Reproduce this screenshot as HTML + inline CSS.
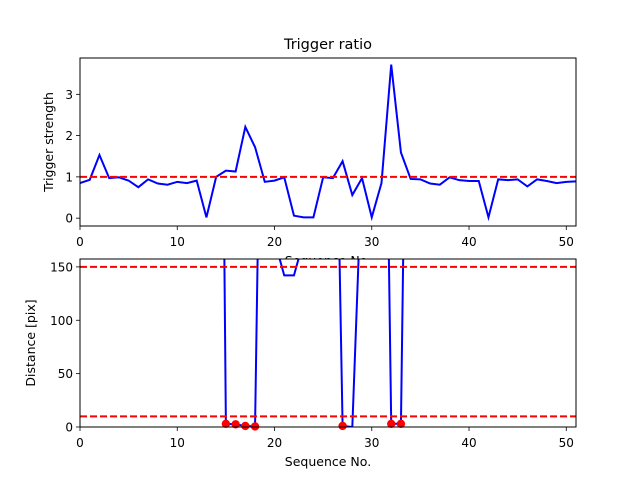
<!DOCTYPE html>
<html><head><meta charset="utf-8">
<style>
html,body{margin:0;padding:0;background:#fff;}
svg text{font-family:"DejaVu Sans","Liberation Sans",sans-serif;fill:#000;}
</style></head>
<body>
<svg id="fig" width="640" height="480" viewBox="0 0 640 480" xmlns="http://www.w3.org/2000/svg">
<rect width="640" height="480" fill="#fff"/>
<text x="328" y="49" font-size="14.5" text-anchor="middle">Trigger ratio</text>
<g id="top"></g>
<g id="bot"></g>
</svg>
<script>
const seq = [];
for (let i = 0; i <= 51; i++) seq.push(i);
const triggerStrength = [0.85,0.93,1.53,0.97,0.99,0.91,0.75,0.94,0.84,0.81,0.88,0.85,0.91,0.02,1.0,1.15,1.13,2.21,1.72,0.88,0.91,0.99,0.06,0.02,0.02,0.99,0.97,1.38,0.56,0.97,0.02,0.85,3.72,1.59,0.95,0.94,0.84,0.81,0.99,0.92,0.9,0.9,0.02,0.94,0.92,0.94,0.77,0.94,0.9,0.85,0.88,0.89];
const distance = [1000,1000,1000,1000,1000,1000,1000,1000,1000,1000,1000,1000,1000,1000,1000,3,2.5,1,0.5,600,175,142,142,175,1000,1000,500,1,0,245,1000,650,3,3,680,1000,1000,1000,1000,1000,1000,1000,1000,1000,1000,1000,1000,1000,1000,1000,1000,1000];
const markerSeq = [15,16,17,18,27,32,33];
const markerDist = [3,2.5,1,0.5,1,3,3];
const topThreshold = [1];
const botThresholds = [150,10];
const xTicks = [0,10,20,30,40,50];
const topYTicks = [0,1,2,3];
const botYTicks = [0,50,100,150];

const NS = "http://www.w3.org/2000/svg";
function mk(parent, tag, attrs) {
  const e = document.createElementNS(NS, tag);
  for (const k in attrs) e.setAttribute(k, attrs[k]);
  parent.appendChild(e);
  return e;
}
const X0 = 80, X1 = 576, XMAX = 51;
const xs = v => X0 + (X1 - X0) * v / XMAX;

function axes(g, y0, y1, ymin, ymax, yticks, ylabel, cid, prefix) {
  const ys = v => y1 - (y1 - y0) * (v - ymin) / (ymax - ymin);
  const bg = mk(g, "rect", {x: X0, y: y0, width: X1 - X0, height: y1 - y0, fill: "#fff"});
  
  
  const cp = mk(g, "clipPath", {id: cid});
  mk(cp, "rect", {x: X0, y: y0, width: X1 - X0, height: y1 - y0});
  xTicks.forEach(t => {
    mk(g, "line", {x1: xs(t), x2: xs(t), y1: y1, y2: y1 + 4, stroke: "#000", "stroke-width": 0.8});
    const tx = mk(g, "text", {x: xs(t), y: y1 + 20, "font-size": 12, "text-anchor": "middle"});
    tx.textContent = t;
    
    
  });
  yticks.forEach(t => {
    mk(g, "line", {x1: X0 - 4, x2: X0, y1: ys(t), y2: ys(t), stroke: "#000", "stroke-width": 0.8});
    const tx = mk(g, "text", {x: X0 - 7, y: ys(t) + 4.5, "font-size": 12, "text-anchor": "end"});
    tx.textContent = t;
    
    
  });
  const yl = mk(g, "text", {x: 0, y: 0, "font-size": 12.5, "text-anchor": "middle", transform: `translate(${prefix === 'top' ? 53 : 35},${(y0 + y1) / 2}) rotate(-90)`});
  yl.textContent = ylabel;
  
  
  const xl = mk(g, "text", {x: (X0 + X1) / 2, y: y1 + 39, "font-size": 12.5, "text-anchor": "middle"});
  xl.textContent = "Sequence No.";
  
  
  return ys;
}
function frame(g, y0, y1, prefix) {
  const f = mk(g, "rect", {x: X0, y: y0, width: X1 - X0, height: y1 - y0, fill: "none", stroke: "#000", "stroke-width": 1});
  
  
}
function hline(g, ys, v, cid, name) {
  const l = mk(g, "line", {x1: X0, x2: X1, y1: ys(v), y2: ys(v), stroke: "#ff0000", "stroke-width": 2, "stroke-dasharray": "7,3", "clip-path": `url(#${cid})`});
  
  
}

// top chart
const gt = document.getElementById("top");
const ysT = axes(gt, 58, 226, -0.19, 3.88, topYTicks, "Trigger strength", "clipT", "top");
const pt = mk(gt, "polyline", {points: seq.map((s, i) => xs(s) + "," + ysT(triggerStrength[i])).join(" "), fill: "none", stroke: "#0000ff", "stroke-width": 2, "clip-path": "url(#clipT)"});


topThreshold.forEach(v => hline(gt, ysT, v, "clipT", "trigger-threshold-line"));
frame(gt, 58, 226, "top");

// bottom chart
const gb = document.getElementById("bot");
const ysB = axes(gb, 259, 427, 0, 157.4, botYTicks, "Distance [pix]", "clipB", "bottom");
const pb = mk(gb, "polyline", {points: seq.map((s, i) => xs(s) + "," + ysB(distance[i])).join(" "), fill: "none", stroke: "#0000ff", "stroke-width": 2, "clip-path": "url(#clipB)"});


botThresholds.forEach(v => hline(gb, ysB, v, "clipB", "distance-threshold-line"));
markerSeq.forEach((s, i) => {
  const c = mk(gb, "circle", {cx: xs(s), cy: ysB(markerDist[i]), r: 4.2, fill: "#ff0000"});
  
  
});
frame(gb, 259, 427, "bottom");
</script>
</body></html>
